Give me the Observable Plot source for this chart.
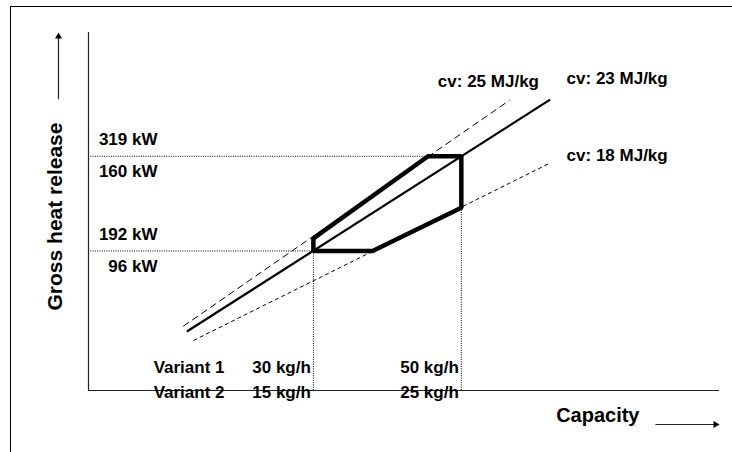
<!DOCTYPE html>
<html>
<head>
<meta charset="utf-8">
<script src="https://cdn.jsdelivr.net/npm/d3@7"></script>
<script src="https://cdn.jsdelivr.net/npm/@observablehq/plot@0.6"></script>
<style>
  html, body { margin: 0; padding: 0; background: #fff; }
  #wrap { position: relative; width: 732px; height: 452px; overflow: hidden; }
  #border { position: absolute; left: 10px; top: 6px; right: -10px; bottom: -10px;
            border-top: 1.6px solid #000; border-left: 1.4px solid #000; }
  #chart { position: absolute; left: 0; top: 0; }
</style>
</head>
<body>
<div id="wrap"><div id="border"></div><div id="chart"></div></div>
<script>
// ---- data (capacity in kg/h for Variant 1, heat release in kW for Variant 1) ----
const variants = ["Variant 1", "Variant 2"];
const capacityV1 = [30, 50];          // kg/h
const capacityV2 = [15, 25];          // kg/h
const powerV1 = [192, 319];           // kW
const powerV2 = [96, 160];            // kW

const cvValues = [25, 23, 18];        // MJ/kg
const lineStartCapacity = [12.4, 12.9, 13.8];
const lineStartPower = [91, 84, 72];
const lineEndCapacity = [56.5, 62, 62];
const lineEndPower = [394, 395, 310];

// operating range polygon (capacity, power)
const rangeCapacity = [30, 45.5, 50, 50, 38, 30];
const rangePower = [209, 319, 319, 250, 192, 192];

const xDomain = [-0.4, 84.9];
const yDomain = [4.9, 485];

const cvLines = cvValues.map((cv, i) => ({
  cv, x1: lineStartCapacity[i], y1: lineStartPower[i], x2: lineEndCapacity[i], y2: lineEndPower[i]
}));
const range = rangeCapacity.map((c, i) => ({c, p: rangePower[i]}));

const font = "'Liberation Sans', Arial, Helvetica, sans-serif";
const lbl = {fontSize: 17, fontWeight: "bold", fill: "#000"};

const chart = Plot.plot({
  width: 732,
  height: 452,
  marginLeft: 88,
  marginRight: 13,
  marginTop: 32,
  marginBottom: 62,
  style: {fontFamily: font, background: "transparent", overflow: "visible"},
  x: {domain: xDomain, axis: null},
  y: {domain: yDomain, axis: null},
  marks: [
    // dotted reference lines
    Plot.ruleY(powerV1, {y: d => d, x1: xDomain[0], x2: (d, i) => capacityV1[i],
      stroke: "#000", strokeWidth: 1, strokeDasharray: "1,1.3"}),
    Plot.ruleX(capacityV1, {x: d => d, y1: yDomain[0], y2: (d, i) => powerV1[i],
      stroke: "#000", strokeWidth: 1, strokeDasharray: "1,1.3"}),
    // axes
    Plot.ruleX([xDomain[0]], {stroke: "#222", strokeWidth: 1.2}),
    Plot.ruleY([yDomain[0]], {stroke: "#222", strokeWidth: 1.2}),
    // axis arrows
    Plot.ruleX([xDomain[0]], {y1: 395, y2: yDomain[1] - 6, dx: -30, stroke: "#222", strokeWidth: 1.2}),
    Plot.dot([0], {x: xDomain[0], y: yDomain[1], dx: -30, dy: 4, symbol: "triangle", r: 2.6, fill: "#000", stroke: "none"}),
    Plot.ruleY([yDomain[0]], {x1: 76.3, x2: xDomain[1] - 0.6, dy: 34, stroke: "#222", strokeWidth: 1.2}),
    Plot.dot([0], {x: xDomain[1], y: yDomain[0], dx: -4, dy: 34, symbol: "triangle", rotate: 90, r: 2.6, fill: "#000", stroke: "none"}),
    // cv lines
    Plot.link(cvLines.filter(d => d.cv === 25), {x1: "x1", y1: "y1", x2: "x2", y2: "y2",
      stroke: "#000", strokeWidth: 1, strokeDasharray: "7,4"}),
    Plot.link(cvLines.filter(d => d.cv === 23), {x1: "x1", y1: "y1", x2: "x2", y2: "y2",
      stroke: "#000", strokeWidth: 2.2}),
    Plot.link(cvLines.filter(d => d.cv === 18), {x1: "x1", y1: "y1", x2: "x2", y2: "y2",
      stroke: "#000", strokeWidth: 1, strokeDasharray: "4,3"}),
    // operating range
    Plot.line(range, {x: "c", y: "p", curve: "linear-closed", stroke: "#000", strokeWidth: 4.5,
      strokeLinejoin: "miter"}),
    // cv labels
    Plot.text(cvLines.filter(d => d.cv === 25), {x: "x2", y: "y2", text: d => `cv: ${d.cv} MJ/kg`,
      textAnchor: "middle", dx: -21, dy: -19, ...lbl}),
    Plot.text(cvLines.filter(d => d.cv === 23), {x: "x2", y: "y2", text: d => `cv: ${d.cv} MJ/kg`,
      textAnchor: "start", dx: 16.5, dy: -21, ...lbl}),
    Plot.text(cvLines.filter(d => d.cv === 18), {x: "x2", y: "y2", text: d => `cv: ${d.cv} MJ/kg`,
      textAnchor: "start", dx: 16.5, dy: -7, ...lbl}),
    // power labels
    Plot.text(powerV1, {y: d => d, text: d => `${d} kW`, frameAnchor: "left", textAnchor: "end",
      dx: 69, dy: -16.6, ...lbl}),
    Plot.text(powerV1, {y: d => d, text: (d, i) => `${powerV2[i]} kW`, frameAnchor: "left", textAnchor: "end",
      dx: 69, dy: 15.5, ...lbl}),
    // capacity labels
    Plot.text(capacityV1, {x: d => d, text: d => `${d} kg/h`, frameAnchor: "bottom", textAnchor: "end",
      dx: -2.5, dy: -18, ...lbl}),
    Plot.text(capacityV1, {x: d => d, text: (d, i) => `${capacityV2[i]} kg/h`, frameAnchor: "bottom", textAnchor: "end",
      dx: -2.5, dy: 7, ...lbl}),
    Plot.text([variants[0]], {frameAnchor: "bottom-left", textAnchor: "end", dx: 136, dy: -18, ...lbl}),
    Plot.text([variants[1]], {frameAnchor: "bottom-left", textAnchor: "end", dx: 136, dy: 7, ...lbl}),
    // axis titles
    Plot.text(["Gross heat release"], {frameAnchor: "left", textAnchor: "middle", rotate: -90, dx: -33, dy: 5,
      fontSize: 21, fontWeight: "bold", fill: "#000"}),
    Plot.text(["Capacity"], {frameAnchor: "bottom-right", textAnchor: "end", dx: -80, dy: 31,
      fontSize: 20, fontWeight: "bold", fill: "#000"})
  ]
});
document.getElementById("chart").appendChild(chart);
</script>
</body>
</html>
